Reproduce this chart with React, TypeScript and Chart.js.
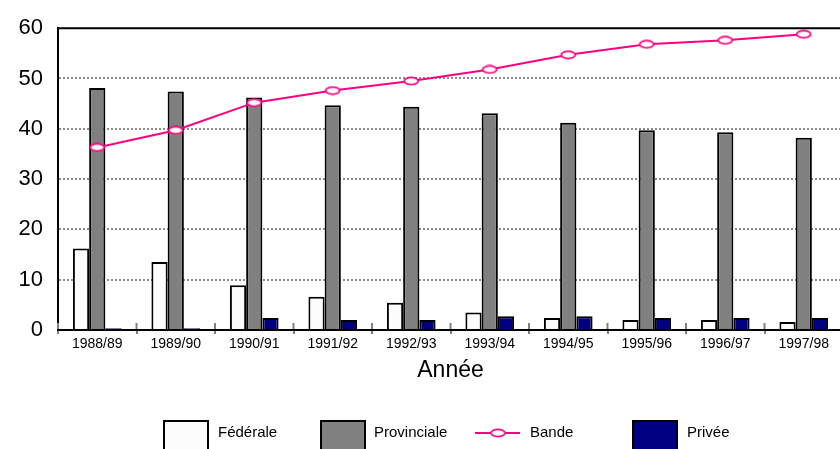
import React, { useEffect, useRef } from "react";
import { Chart, registerables } from "chart.js";

Chart.register(...registerables);

const categories = ["1988/89", "1989/90", "1990/91", "1991/92", "1992/93", "1993/94", "1994/95", "1995/96", "1996/97", "1997/98"];
const federale = [16.2, 13.5, 8.9, 6.6, 5.4, 3.5, 2.4, 2.0, 2.0, 1.6];
const provinciale = [48.1, 47.4, 46.2, 44.7, 44.4, 43.1, 41.2, 39.7, 39.3, 38.2];
const bande = [36.3, 39.7, 45.2, 47.6, 49.5, 51.8, 54.7, 56.8, 57.6, 58.8];
const privee = [0.35, 0.35, 2.4, 2.0, 2.0, 2.75, 2.75, 2.4, 2.4, 2.4];
const yTicks = [0, 10, 20, 30, 40, 50, 60];
const axisTitle = "Année";

const FONT = "'Liberation Sans', Arial, Helvetica, sans-serif";
const PINK = "#ff0080";

function makeMarker(): HTMLCanvasElement {
  const c = document.createElement("canvas");
  c.width = 17;
  c.height = 10;
  const g = c.getContext("2d")!;
  g.beginPath();
  g.ellipse(8.5, 5, 7, 3.6, 0, 0, Math.PI * 2);
  g.fillStyle = "#ffffff";
  g.fill();
  g.lineWidth = 1.8;
  g.strokeStyle = PINK;
  g.stroke();
  return c;
}

const frameAndLegend = {
  id: "frameAndLegend",
  afterDraw(chart: any) {
    const { ctx, chartArea } = chart;
    ctx.save();
    // solid top frame line
    ctx.strokeStyle = "#000";
    ctx.lineWidth = 2;
    ctx.beginPath();
    ctx.moveTo(chartArea.left - 1, chartArea.top);
    ctx.lineTo(chartArea.right, chartArea.top);
    ctx.stroke();

    // short tick marks crossing the x axis at category boundaries
    const xs = chart.scales.x;
    ctx.strokeStyle = "#808080";
    ctx.lineWidth = 2;
    for (let i = 0; i <= xs.ticks.length; i++) {
      const x = xs.getPixelForTick(0) + (i - 0.5) * (xs.getPixelForTick(1) - xs.getPixelForTick(0));
      ctx.beginPath();
      ctx.moveTo(x, chartArea.bottom - 7);
      ctx.lineTo(x, chartArea.bottom - 1);
      ctx.stroke();
    }

    // custom legend
    const pos = [
      { ds: 0, boxX: 163, textX: 218 },
      { ds: 1, boxX: 320, textX: 374 },
      { ds: 2, boxX: 475, textX: 530 },
      { ds: 3, boxX: 632, textX: 687 },
    ];
    const cy = 433;
    ctx.font = `15px ${FONT}`;
    ctx.textBaseline = "middle";
    ctx.textAlign = "left";
    pos.forEach((p) => {
      const ds = chart.data.datasets[p.ds];
      if (ds.type === "line") {
        ctx.strokeStyle = ds.borderColor;
        ctx.lineWidth = 2;
        ctx.beginPath();
        ctx.moveTo(p.boxX, cy);
        ctx.lineTo(p.boxX + 45, cy);
        ctx.stroke();
        const m = ds.pointStyle as HTMLCanvasElement;
        ctx.drawImage(m, p.boxX + 23 - m.width / 2, cy - m.height / 2);
      } else {
        ctx.fillStyle = ds.backgroundColor;
        ctx.fillRect(p.boxX, 420, 46, 32);
        ctx.strokeStyle = "#000";
        ctx.lineWidth = 2;
        ctx.strokeRect(p.boxX + 1, 421, 44, 32);
      }
      ctx.fillStyle = "#000";
      ctx.fillText(ds.label, p.textX, cy);
    });
    ctx.restore();
  },
};

export default function App() {
  const ref = useRef<HTMLCanvasElement | null>(null);

  useEffect(() => {
    if (!ref.current) return;
    const marker = makeMarker();
    const barCommon = {
      type: "bar" as const,
      borderColor: "#000",
      borderWidth: 2,
      borderSkipped: "bottom" as const,
      categoryPercentage: 0.62,
      barPercentage: 1.0,
      order: 1,
    };
    const chart = new Chart(ref.current, {
      type: "bar",
      data: {
        labels: categories,
        datasets: [
          { ...barCommon, label: "Fédérale", data: federale, backgroundColor: "#fcfcfc" },
          { ...barCommon, label: "Provinciale", data: provinciale, backgroundColor: "#808080" },
          {
            type: "line",
            label: "Bande",
            data: bande,
            borderColor: PINK,
            backgroundColor: "#ffffff",
            borderWidth: 2,
            pointStyle: marker as any,
            pointRadius: 5,
            tension: 0,
            order: 0,
          } as any,
          { ...barCommon, label: "Privée", data: privee, backgroundColor: "#000080" },
        ],
      },
      options: {
        animation: false,
        responsive: false,
        devicePixelRatio: 1,
        layout: { padding: { top: 18, right: 3, left: 0, bottom: 0 } },
        plugins: {
          legend: { display: false },
          tooltip: { enabled: false },
          title: { display: false },
        },
        scales: {
          x: {
            type: "category",
            offset: true,
            grid: {
              display: true,
              drawOnChartArea: false,
              drawTicks: true,
              tickLength: 4,
              color: "#808080",
              lineWidth: 2,
            },
            border: { display: true, color: "#000", width: 2 },
            ticks: {
              color: "#000",
              font: { family: FONT, size: 14 },
              padding: 2,
              maxRotation: 0,
              autoSkip: false,
            },
            title: {
              display: true,
              text: axisTitle,
              color: "#000",
              font: { family: FONT, size: 23 },
              padding: { top: 0, bottom: 65 },
            },
            afterFit: (scale: any) => {
              scale.height = 119;
            },
          },
          y: {
            type: "linear",
            min: 0,
            max: 60,
            afterBuildTicks: (scale: any) => {
              scale.ticks = yTicks.map((v) => ({ value: v }));
            },
            grid: {
              display: true,
              drawTicks: false,
              color: (c: any) => (c.tick && (c.tick.value === 0 || c.tick.value === 60) ? "rgba(0,0,0,0)" : "#8c8c8c"),
              lineWidth: 2,
            },
            border: { display: true, color: "#000", width: 2, dash: [2, 2] },
            ticks: {
              color: "#000",
              font: { family: FONT, size: 22 },
              padding: 15,
            },
            afterFit: (scale: any) => {
              scale.width = 58;
            },
          },
        },
      },
      plugins: [frameAndLegend],
    });
    return () => chart.destroy();
  }, []);

  return (
    <div style={{ position: "fixed", left: 0, top: 0, width: 840, height: 449, overflow: "hidden", background: "#fff" }}>
      <canvas ref={ref} width={850} height={449} style={{ display: "block", width: 850, height: 449 }} />
    </div>
  );
}
